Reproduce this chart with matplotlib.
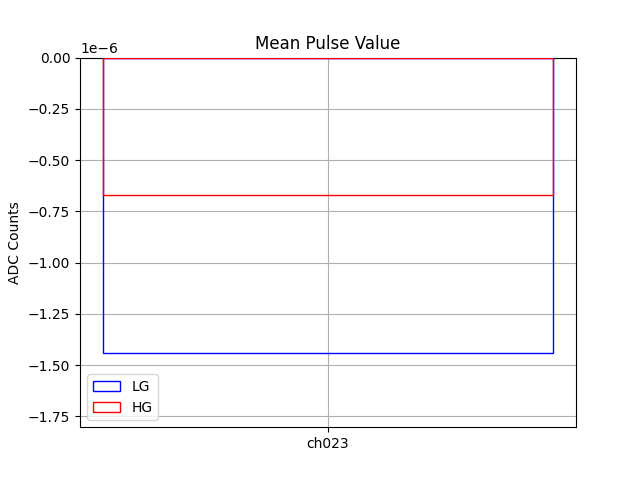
import matplotlib
matplotlib.use("Agg")
import matplotlib.pyplot as plt
import numpy as np

channels = ["ch023"]
lg_values = [-1.442e-6]
hg_values = [-0.670e-6]

fig, ax = plt.subplots(figsize=(6.4, 4.8), dpi=100)
x = np.arange(len(channels))
ax.bar(x, lg_values, width=0.8, fill=False, edgecolor="blue", label="LG", zorder=3)
ax.bar(x, hg_values, width=0.8, fill=False, edgecolor="red", label="HG", zorder=3)
ax.set_xticks(x)
ax.set_xticklabels(channels)
ax.set_ylim(1.25 * min(min(lg_values), min(hg_values)), 0)
ax.set_ylabel("ADC Counts")
ax.set_title("Mean Pulse Value")
ax.grid(True)
ax.legend(loc="lower left")
fig.savefig("out.png")
